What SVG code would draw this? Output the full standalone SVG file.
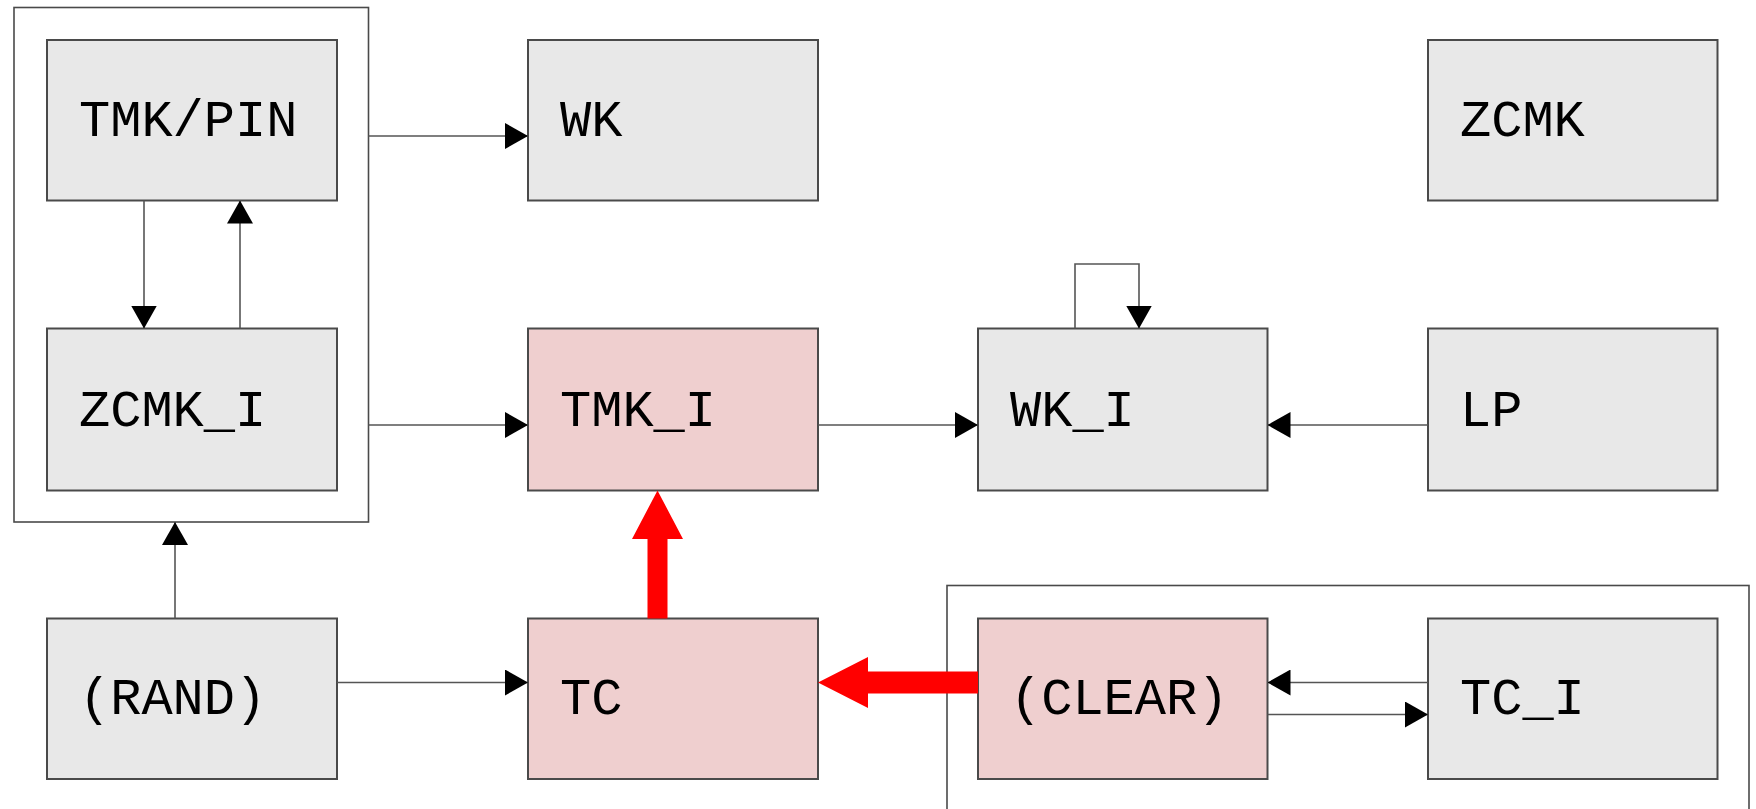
<svg xmlns="http://www.w3.org/2000/svg" width="1756" height="809" viewBox="0 0 1756 809">
<defs>
<marker id="ah" markerWidth="23" markerHeight="26" refX="23" refY="13" orient="auto" markerUnits="userSpaceOnUse">
<path d="M0,0 L23,13 L0,26 Z" fill="#000"/>
</marker>
<style>
.g{fill:#e8e8e8;stroke:#4a4a4a;stroke-width:2}
.p{fill:#efcfcf;stroke:#4a4a4a;stroke-width:2}
.c{fill:none;stroke:#4a4a4a;stroke-width:1.6}
.t{font-family:"Liberation Mono","Courier New",monospace;font-size:52px;fill:#000}
.e{fill:none;stroke:#555;stroke-width:1.6}
.l{fill:none;stroke:#555;stroke-width:1.6;marker-end:url(#ah)}
.r{fill:#ff0000}
</style>
</defs>
<rect width="1756" height="809" fill="#fff"/>
<g id="containers">
<rect class="c" x="14" y="7.5" width="354.5" height="514.5"/>
<rect class="c" x="947" y="585.5" width="802" height="240"/>
</g>
<g id="TMK_PIN"><rect class="g" x="47" y="40" width="290" height="160.5"/><text class="t" x="79" y="136">TMK/PIN</text></g>
<g id="WK"><rect class="g" x="528" y="40" width="290" height="160.5"/><text class="t" x="560" y="136">WK</text></g>
<g id="ZCMK"><rect class="g" x="1428" y="40" width="289.5" height="160.5"/><text class="t" x="1460" y="136">ZCMK</text></g>
<g id="ZCMK_I"><rect class="g" x="47" y="328.5" width="290" height="162"/><text class="t" x="79" y="426">ZCMK_I</text></g>
<g id="TMK_I"><rect class="p" x="528" y="328.5" width="290" height="162"/><text class="t" x="560" y="426">TMK_I</text></g>
<g id="WK_I"><rect class="g" x="978" y="328.5" width="289.5" height="162"/><text class="t" x="1010" y="426">WK_I</text></g>
<g id="LP"><rect class="g" x="1428" y="328.5" width="289.5" height="162"/><text class="t" x="1460" y="426">LP</text></g>
<g id="RAND"><rect class="g" x="47" y="618.5" width="290" height="160.5"/><text class="t" x="79" y="714">(RAND)</text></g>
<g id="TC"><rect class="p" x="528" y="618.5" width="290" height="160.5"/><text class="t" x="560" y="714">TC</text></g>
<g id="CLEAR"><rect class="p" x="978" y="618.5" width="289.5" height="160.5"/><text class="t" x="1010" y="714">(CLEAR)</text></g>
<g id="TC_I"><rect class="g" x="1428" y="618.5" width="289.5" height="160.5"/><text class="t" x="1460" y="714">TC_I</text></g>
<g id="connectors">
<line class="l" x1="368.5" y1="136" x2="528" y2="136"/>
<line class="l" x1="144" y1="200.5" x2="144" y2="328.5"/>
<line class="l" x1="240" y1="328.5" x2="240" y2="200.5"/>
<line class="l" x1="368.5" y1="425" x2="528" y2="425"/>
<line class="l" x1="175" y1="618.5" x2="175" y2="522"/>
<line class="l" x1="337" y1="682.5" x2="528" y2="682.5"/>
<path class="l" d="M1075,328.5 V264 H1139 V328.5"/>
<line class="l" x1="818" y1="425" x2="978" y2="425"/>
<line class="l" x1="1428" y1="425" x2="1267.5" y2="425"/>
<line class="l" x1="1428" y1="682.5" x2="1267.5" y2="682.5"/>
<line class="l" x1="1267.5" y1="714.5" x2="1428" y2="714.5"/>
<path class="r" d="M647.5,618.5 V539 H632 L657.5,490.5 L683,539 H667.5 V618.5 Z"/>
<path class="r" d="M978,671.5 H868 V657 L818,682.5 L868,708 V693.5 H978 Z"/>
</g>
</svg>
